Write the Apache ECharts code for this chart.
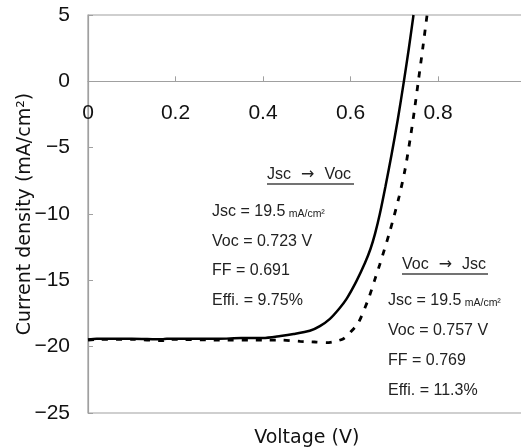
<!DOCTYPE html>
<html>
<head>
    <meta charset="utf-8">
    <title>J-V curve</title>
    <script src="https://cdn.jsdelivr.net/npm/echarts@6/dist/echarts.min.js"></script>
    <style>
        html, body { margin: 0; padding: 0; background: #fff; }
        #chart1 { width: 521px; height: 447px; }
    </style>
</head>
<body>
<div id="chart1"></div>
<script type="text/javascript">
    // 数据：电压 (V) 与电流密度 (mA/cm2)
    var xTicks = [0, 0.2, 0.4, 0.6, 0.8];
    var yTicks = [-25, -20, -15, -10, -5, 0, 5];

    // Jsc -> Voc 扫描（实线）
    var fwdV = [0, 0.02, 0.1, 0.17, 0.18, 0.25, 0.3, 0.35, 0.4, 0.44, 0.47, 0.507, 0.53, 0.553, 0.575, 0.591, 0.613, 0.633, 0.646, 0.656, 0.667, 0.68, 0.694, 0.708, 0.722, 0.733, 0.744];
    var fwdJ = [-19.45, -19.4, -19.4, -19.45, -19.4, -19.4, -19.4, -19.35, -19.35, -19.2, -19.05, -18.8, -18.45, -17.9, -17.1, -16.4, -15.1, -13.7, -12.6, -11.5, -10.0, -7.9, -5.5, -2.9, 0, 2.4, 5];

    // Voc -> Jsc 扫描（虚线）
    var revV = [0, 0.02, 0.1, 0.17, 0.18, 0.3, 0.4, 0.44, 0.485, 0.52, 0.546, 0.565, 0.584, 0.6, 0.618, 0.641, 0.655, 0.667, 0.69, 0.711, 0.725, 0.738, 0.746, 0.755, 0.765, 0.775];
    var revJ = [-19.5, -19.45, -19.45, -19.55, -19.45, -19.5, -19.5, -19.5, -19.6, -19.65, -19.7, -19.6, -19.4, -18.9, -18.2, -16.4, -15.0, -13.8, -11.3, -8.7, -6.6, -4.0, -2.2, 0, 2.45, 5];

    var fwdText = ['Jsc = 19.5', 'Voc = 0.723 V', 'FF = 0.691', 'Effi. = 9.75%'];
    var revText = ['Jsc = 19.5', 'Voc = 0.757 V', 'FF = 0.769', 'Effi. = 11.3%'];

    function pairs(xs, ys) {
        return xs.map(function (x, i) { return [x, ys[i]]; });
    }

    var FONT = '"Liberation Sans", Arial, sans-serif';
    var NAMEFONT = '"DejaVu Sans", sans-serif';
    var GRAY = '#a0a0a0';

    // 网格尺寸（用于把 x 轴移到 y=0 处）
    var H = 447, TOP = 15, BOTTOM = 34;
    var zeroOffset = -((H - TOP - BOTTOM) * (0 - yTicks[0]) / (yTicks[yTicks.length - 1] - yTicks[0]));

    // 参数文字块
    function block(lines, x, y0, step) {
        return lines.map(function (t, i) {
            var txt = i === 0 ? '{a|' + t + '} {b|mA/cm²}' : '{a|' + t + '}';
            return {
                type: 'text', x: x, y: y0 + i * step,
                style: {
                    text: txt,
                    verticalAlign: 'middle',
                    rich: {
                        a: { fontSize: 16, fontFamily: FONT, fill: '#222' },
                        b: { fontSize: 10.5, fontFamily: FONT, fill: '#222', padding: [4, 0, 0, 0] }
                    }
                }
            };
        });
    }

    function header(a, b, x, y, w) {
        return [
            {
                type: 'text', x: x, y: y,
                style: {
                    text: '{a|' + a + '}   {c|\u2192}   {a|' + b + '}',
                    verticalAlign: 'middle',
                    rich: {
                        a: { fontSize: 16, fontFamily: FONT, fill: '#222' },
                        c: { fontSize: 16, fontFamily: NAMEFONT, fill: '#222' }
                    }
                }
            },
            { type: 'line', shape: { x1: x, y1: y + 9, x2: x + w, y2: y + 9 }, style: { stroke: '#444', lineWidth: 1.5 } }
        ];
    }

    var myChart1 = echarts.init(document.getElementById('chart1'));

    myChart1.setOption({
        animation: false,
        grid: {
            left: 88, top: TOP, bottom: BOTTOM, right: -4.5,
            outerBoundsMode: 'none',
            show: true, borderColor: GRAY, borderWidth: 1.2, backgroundColor: 'transparent'
        },
        xAxis: [{
            type: 'value', min: 0, max: 1, interval: 0.2, position: 'bottom',
            offset: zeroOffset,
            axisLine: { onZero: false, lineStyle: { color: GRAY, width: 1.2 } },
            axisTick: { inside: true, length: 5, lineStyle: { color: GRAY } },
            splitLine: { show: false },
            axisLabel: {
                margin: 21, fontSize: 21, fontFamily: FONT, color: '#111',
                formatter: function (v) { return xTicks.indexOf(v) >= 0 ? String(v) : ''; }
            }
        }, {
            type: 'value', min: 0, max: 1, position: 'bottom',
            axisLine: { show: false, onZero: false },
            axisTick: { show: false }, axisLabel: { show: false }, splitLine: { show: false },
            name: 'Voltage (V)', nameLocation: 'middle', nameGap: 16,
            nameTextStyle: { fontSize: 19, fontFamily: NAMEFONT, color: '#111' }
        }],
        yAxis: {
            type: 'value', min: yTicks[0], max: yTicks[yTicks.length - 1], interval: 5,
            axisLine: { lineStyle: { color: GRAY, width: 1.2 } },
            axisTick: { inside: true, length: 5, lineStyle: { color: GRAY } },
            splitLine: { show: false },
            axisLabel: {
                margin: 18, fontSize: 21, fontFamily: FONT, color: '#111',
                formatter: function (v) { return String(v).replace('-', '\u2212'); }
            },
            name: 'Current density (mA/cm²)', nameLocation: 'middle', nameGap: 53,
            nameMoveOverlap: false,
            nameTextStyle: { fontSize: 19, fontFamily: NAMEFONT, color: '#111' }
        },
        series: [{
            name: 'Jsc → Voc', type: 'line', showSymbol: false,
            smooth: 0.25,
            data: pairs(fwdV, fwdJ),
            lineStyle: { color: '#000', width: 2.5 }
        }, {
            name: 'Voc → Jsc', type: 'line', showSymbol: false,
            smooth: 0.25,
            data: pairs(revV, revJ),
            lineStyle: { color: '#000', width: 2.8, type: [6, 8] }
        }],
        graphic: [].concat(
            header('Jsc', 'Voc', 267, 175, 87),
            block(fwdText, 212, 212, 29.5),
            header('Voc', 'Jsc', 402, 265, 86),
            block(revText, 388, 301, 30)
        )
    });
</script>
</body>
</html>
